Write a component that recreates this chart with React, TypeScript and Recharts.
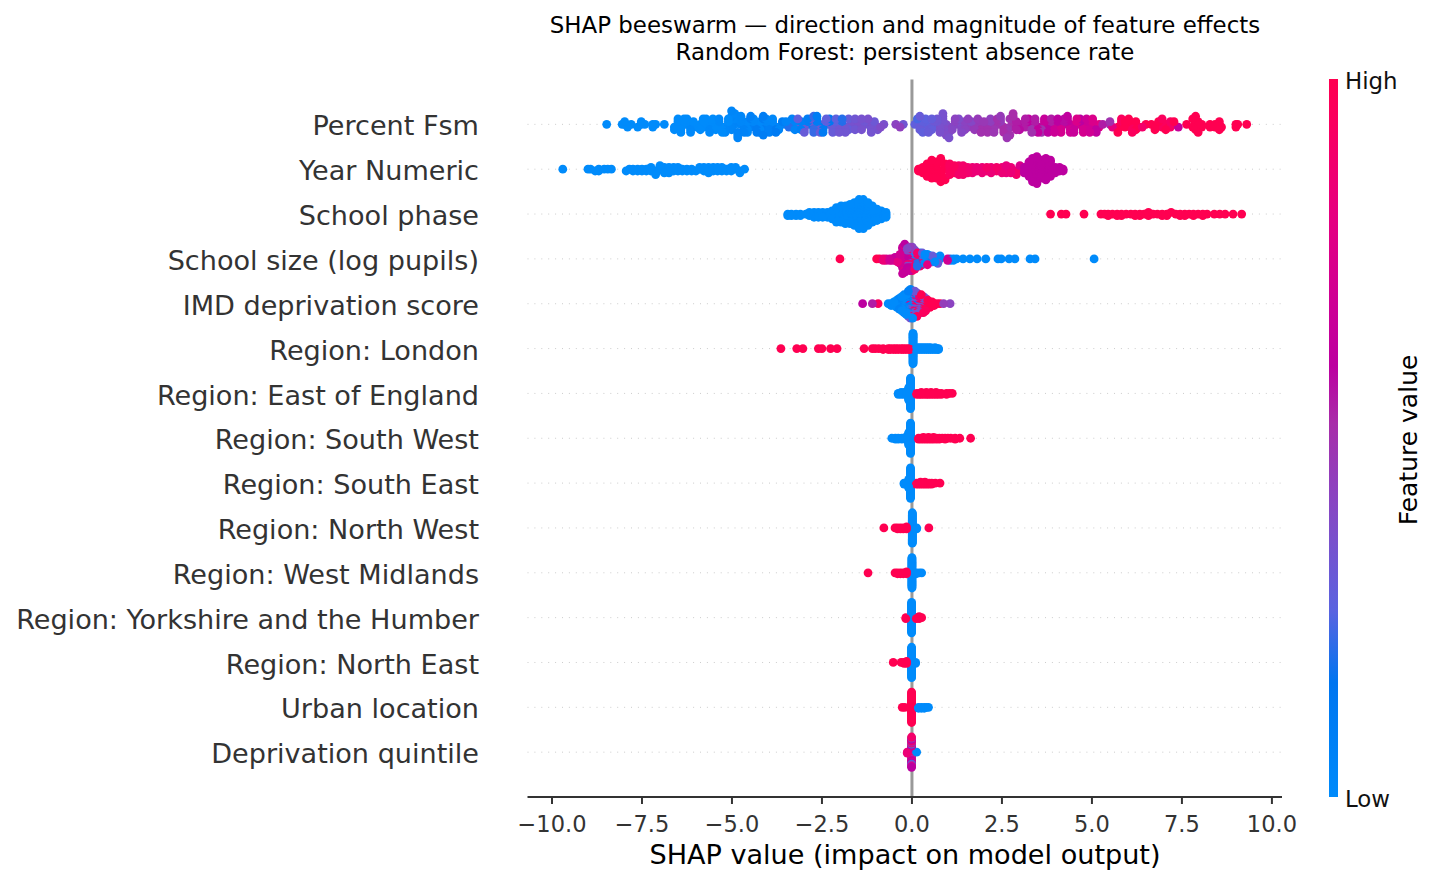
import { ScatterChart, Scatter, XAxis, YAxis, ReferenceLine } from 'recharts'

// ─── Data ─────────────────────────────────────────────────────────────────────
// Each entry: [SHAP value, how many schools stack there, feature value 0..1]

type Stack = [number, number, number]

const FEATURES = [
  'Percent Fsm',
  'Year Numeric',
  'School phase',
  'School size (log pupils)',
  'IMD deprivation score',
  'Region: London',
  'Region: East of England',
  'Region: South West',
  'Region: South East',
  'Region: North West',
  'Region: West Midlands',
  'Region: Yorkshire and the Humber',
  'Region: North East',
  'Urban location',
  'Deprivation quintile',
]

const X_TICKS = [-10, -7.5, -5, -2.5, 0, 2.5, 5, 7.5, 10]

const percentFsm: Stack[] = [
  [-8.48,1,0],[-8.05,1,0],[-7.98,2,0],[-7.9,1,0],[-7.8,1,0],[-7.62,1,0],[-7.52,2,0],[-7.42,1,0],[-7.2,2,0],[-7.12,1,0],[-6.88,1,0],
  [-6.6,2,0],[-6.5,3,0],[-6.42,3,0],[-6.33,3,0],[-6.25,3,0],[-6.15,3,.02],[-6.07,2,0],[-5.98,1,0],[-5.88,2,0],[-5.8,3,0],[-5.72,3,0],[-5.62,3,.02],[-5.53,2,0],[-5.45,3,0],
  [-5.36,3,.02],[-5.27,3,0],[-5.19,3,.03],[-5.1,3,0],[-5.01,4,.04],[-4.92,3,.02],[-4.84,4,.05],[-4.75,4,.03],[-4.66,3,.06],[-4.57,4,.02],[-4.48,3,.08],[-4.4,3,.03],[-4.31,3,.1],[-4.22,4,.02],[-4.13,4,.1],[-4.05,3,.04],[-3.96,3,.08],[-3.87,3,.03],[-3.78,3,.12],[-3.7,2,.04],[-3.6,2,.1],[-3.5,2,.05],[-3.42,1,.2],[-3.33,2,.06],
  [-3.25,3,.05],[-3.17,2,.28],[-3.08,3,.08],[-2.99,3,.3],[-2.9,3,.1],[-2.82,3,.3],[-2.73,4,.22],[-2.64,3,.1],[-2.55,4,.3],[-2.47,3,.12],[-2.38,3,.28],[-2.29,3,.14],[-2.2,3,.3],[-2.11,3,.27],[-2.02,3,.33],[-1.94,3,.2],[-1.85,3,.33],[-1.76,3,.3],[-1.67,2,.35],[-1.58,3,.33],[-1.5,2,.36],[-1.4,3,.35],[-1.32,2,.33],[-1.22,3,.36],[-1.13,3,.34],[-1.04,2,.32],[-.95,2,.35],[-.87,1,.38],[-.78,1,.36],[-.45,1,.42],[-.33,1,.44],[-.24,1,.33],[.08,1,.28],[.15,1,.24],
  [.22,3,.3],[.3,3,.28],[.38,3,.27],[.46,3,.3],[.55,3,.29],[.62,2,.32],[.7,3,.33],[.78,3,.36],[.86,4,.35],[.95,3,.38],[1.03,3,.36],[1.12,2,.4],[1.2,3,.42],[1.3,3,.38],[1.38,3,.4],[1.47,3,.42],[1.56,2,.44],[1.65,2,.4],[1.74,2,.46],[1.83,3,.46],[1.92,3,.5],[2,3,.47],[2.1,3,.5],[2.18,3,.44],[2.28,3,.48],[2.37,3,.5],[2.46,4,.46],[2.55,3,.52],[2.64,3,.48],[2.72,3,.5],[2.81,4,.52],[2.9,4,.55],[2.99,2,.58],
  [3.15,3,.55],[3.24,3,.6],[3.33,3,.5],[3.42,3,.55],[3.5,3,.62],[3.6,3,.5],[3.68,3,.65],[3.78,3,.6],[3.87,3,.55],[3.96,3,.68],[4.05,3,.6],[4.14,3,.72],[4.23,3,.58],[4.32,3,.62],[4.4,4,.7],[4.5,3,.66],[4.58,3,.75],[4.67,3,.6],[4.76,3,.72],[4.85,3,.68],[4.94,3,.7],[5.02,3,.75],[5.12,3,.62],[5.2,2,.8],[5.3,1,.55],[5.5,2,.5],[5.57,1,.8],
  [5.72,3,1],[5.82,3,.95],[5.92,3,1],[6.02,3,1],[6.12,3,.95],[6.22,3,1],[6.3,1,.85],[6.4,1,.9],[6.5,1,1],[6.65,1,1],[6.75,2,1],[6.85,2,1],[6.95,3,.95],[7.05,2,1],[7.18,3,.92],[7.28,2,1],[7.4,1,.65],[7.63,1,1],[7.8,2,1],[7.88,2,1],[7.95,3,1],[8.05,2,1],[8.28,2,1],[8.42,2,1],[8.54,3,1],[8.6,1,1],[9,2,1],[9.05,1,1],[9.3,1,1],
]

const yearNumeric: Stack[] = [
  [-9.7,1,0],[-9,1,0],[-8.93,1,0],[-8.8,1,0],[-8.7,2,0],[-8.55,1,0],[-8.45,1,0],[-8.35,1,0],
  [-7.94,1,0],[-7.85,1,0],[-7.75,2,0],[-7.62,2,0],[-7.5,2,0],[-7.38,2,0],[-7.25,3,0],[-7.12,3,0],[-7,3,0],[-6.88,4,0],[-6.75,4,0],[-6.62,3,0],[-6.5,3,0],[-6.38,2,0],[-6.25,2,0],[-6.12,2,0],[-6,1,0],[-5.9,2,0],[-5.78,3,0],[-5.65,4,0],[-5.52,3,0],[-5.4,3,0],[-5.28,3,0],[-5.15,2,0],[-5.02,3,0],[-4.9,2,0],[-4.78,2,0],[-4.65,1,0],
  [.18,2,1],[.3,4,1],[.42,8,1],[.55,11,1],[.68,10,1],[.8,8,1],[.92,6,1],[1.05,7,.95],[1.18,5,.95],[1.3,6,.9],[1.42,6,.9],[1.55,4,.88],[1.68,4,.85],[1.8,3,.85],[1.95,4,.85],[2.08,3,.9],[2.2,4,.85],[2.35,3,.9],[2.5,4,.85],[2.62,5,.82],[2.75,4,.85],[2.9,3,.9],[3,3,.75],[3.12,4,.6],[3.25,9,.6],[3.35,14,.6],[3.47,16,.6],[3.6,11,.6],[3.72,7,.6],[3.85,6,.6],[3.98,4,.6],[4.1,3,.6],[4.2,2,.6],
]

const schoolPhase: Stack[] = [
  [-3.45,2,0],[-3.35,2,0],[-3.22,2,0],[-3.1,2,0],[-2.95,1,0],[-2.85,3,0],[-2.72,4,0],[-2.6,4,0],[-2.48,4,0],[-2.35,4,0],[-2.22,6,0],[-2.1,10,0],[-1.97,11,0],[-1.85,12,0],[-1.72,13,0],[-1.6,15,0],[-1.47,19,0],[-1.35,19,0],[-1.22,15,0],[-1.1,11,0],[-.97,8,0],[-.85,6,0],[-.72,4,0],
  [3.85,1,1],[4.15,1,1],[4.28,1,1],[4.78,1,1],[5.25,1,1],[5.35,1,1],[5.45,2,1],[5.57,1,1],[5.7,2,1],[5.82,2,1],[5.95,1,1],[6.08,1,1],[6.2,2,1],[6.33,2,1],[6.45,1,1],[6.57,2,1],[6.7,1,1],[6.82,1,1],[6.95,2,1],[7.08,2,1],[7.2,1,1],[7.33,1,1],[7.45,2,1],[7.58,2,1],[7.7,1,1],[7.82,2,1],[7.95,1,1],[8.08,2,1],[8.2,1,1],[8.4,1,1],[8.55,1,1],[8.7,1,1],[8.92,1,1],[9.16,1,1],
]

const schoolSize: Stack[] = [
  [-2,1,1],[-.98,1,1],[-.9,1,.95],[-.8,2,.85],[-.72,2,.75],[-.62,2,.7],[-.55,2,.7],[-.47,3,.65],[-.4,4,.8],[-.33,7,.7],[-.26,9,.65],
  [-.2,7,.8],[-.2,5,.6],[-.13,9,.62],[-.13,4,.4],[-.13,2,.9],[-.06,8,.65],[-.06,5,.9],[-.06,4,.45],
  [.01,6,.5],[.01,5,.4],[.01,4,.9],[.01,2,0],[.08,7,.9],[.08,4,.35],[.08,3,0],[.15,5,.2],[.15,5,.9],[.22,7,0],[.22,3,.9],[.29,6,.3],[.29,3,.85],
  [.36,7,0],[.43,6,0],[.43,2,.8],[.5,5,.1],[.57,4,.3],[.57,1,.9],[.64,4,0],[.72,3,.3],[.78,3,0],[.99,2,.7],[1.06,2,0],[1.15,2,0],[1.24,1,0],[1.42,1,0],[1.61,1,0],[1.81,1,0],[2.05,1,0],[2.39,1,0],[2.48,1,0],[2.7,1,0],[2.86,1,0],[3.28,1,0],[3.42,1,0],[5.06,1,0],
]

const imdScore: Stack[] = [
  [-1.37,1,.6],[-1.1,1,.55],[-.94,1,.95],[-.66,1,0],[-.58,2,0],[-.5,3,0],[-.42,5,0],[-.35,7,.05],[-.28,9,0],[-.22,11,.05],
  [-.16,10,0],[-.16,2,.8],[-.1,10,.08],[-.1,5,.35],[-.04,9,.05],[-.04,3,.9],[-.04,5,.33],[.02,7,.33],[.02,3,.85],[.02,6,0],[.08,4,.85],[.08,7,.33],[.08,4,.08],
  [.14,4,.95],[.14,7,.35],[.14,3,.08],[.2,5,.85],[.2,6,.33],[.26,5,1],[.26,6,.37],[.32,6,.95],[.32,4,.38],[.38,5,.95],[.38,3,.4],[.44,5,1],[.5,4,1],[.56,3,1],[.62,2,1],[.7,1,1],[.78,1,1],[.88,1,.45],[1.06,1,.42],
]

const regionLondon: Stack[] = [
  [-3.64,1,1],[-3.2,1,1],[-3.03,1,1],[-2.6,1,1],[-2.5,1,1],[-2.26,1,1],[-2.08,1,1],[-1.33,1,1],[-1.1,1,1],[-1.02,1,1],[-.92,1,1],[-.8,2,1],[-.66,2,1],[-.6,2,1],[-.52,2,1],[-.45,2,1],[-.38,2,1],[-.3,2,1],[-.24,2,1],[-.17,2,1],[-.1,2,1],[-.05,2,1],
  [.03,33,0],[.1,2,0],[.16,3,0],[.22,3,0],[.28,3,0],[.34,3,0],[.4,3,0],[.46,3,0],[.52,3,0],[.58,2,0],[.64,3,0],[.7,2,0],[.74,2,0],
]

const regionEast: Stack[] = [
  [-.38,2,0],[-.3,3,0],[-.22,3,0],[-.15,3,0],[-.09,14,0],[-.04,33,0],
  [.13,2,1],[.2,2,1],[.26,3,1],[.33,2,1],[.4,3,1],[.46,2,1],[.53,3,1],[.6,2,1],[.67,3,1],[.74,2,1],[.82,2,1],[.96,2,1],[1.04,1,1],[1.12,1,1],
]

const regionSouthWest: Stack[] = [
  [-.56,1,0],[-.46,2,0],[-.38,2,0],[-.28,2,0],[-.18,3,0],[-.09,14,0],[-.04,33,0],
  [.18,2,1],[.25,2,1],[.32,3,1],[.39,2,1],[.46,3,1],[.53,2,1],[.6,3,1],[.68,2,1],[.76,2,1],[.84,1,1],[.92,2,1],[1,1,1],[1.08,1,1],[1.2,2,1],[1.33,1,1],[1.63,1,1],
]

const regionSouthEast: Stack[] = [
  [-.22,2,0],[-.15,2,0],[-.09,10,0],[-.04,33,0],
  [.12,2,1],[.18,2,1],[.24,3,1],[.3,2,1],[.36,3,1],[.42,2,1],[.48,2,1],[.55,2,1],[.65,1,1],[.78,1,1],
]

const regionNorthWest: Stack[] = [
  [-.78,1,1],[-.47,1,1],[-.4,2,1],[-.32,2,1],[-.24,2,1],[-.15,3,1],[.01,33,0],[.13,2,0],[.47,1,1],
]

const regionWestMidlands: Stack[] = [
  [-1.22,1,1],[-.47,1,1],[-.4,2,1],[-.32,2,1],[-.24,2,1],[-.15,3,1],[0,33,0],[.12,2,0],[.2,1,0],[.27,1,0],
]

const regionYorkshire: Stack[] = [
  [-.17,2,1],[.12,2,1],[.2,3,1],[.27,1,1],[-.01,33,0],
]

const regionNorthEast: Stack[] = [
  [-.52,1,1],[-.3,1,1],[-.22,2,1],[-.15,3,1],[-.01,33,0],[.1,2,0],
]

const urbanLocation: Stack[] = [
  [-.27,1,1],[-.2,1,1],[-.01,33,1],[.18,2,0],[.26,2,0],[.34,2,0],[.4,1,0],[.46,1,0],
]

const deprivationQuintile: Stack[] = [
  [-.13,2,.85],[-.01,9,.6],[-.01,7,.75],[-.01,6,.9],[-.01,6,.5],[-.01,3,.25],[.13,1,0],
]

const ROWS = [
  percentFsm, yearNumeric, schoolPhase, schoolSize, imdScore, regionLondon, regionEast, regionSouthWest,
  regionSouthEast, regionNorthWest, regionWestMidlands, regionYorkshire, regionNorthEast, urbanLocation, deprivationQuintile,
]

// ─── Colour ───────────────────────────────────────────────────────────────────

const COLOR_STOPS: [number, string][] = [
  [0, '#008bfb'], [0.16, '#0075f0'], [0.26, '#5a63e0'], [0.36, '#7a50cc'], [0.435, '#8f40be'],
  [0.52, '#a82da9'], [0.6, '#bc00a0'], [0.68, '#cc0096'], [0.81, '#e60080'], [0.94, '#fa005f'], [1, '#ff0051'],
]

function colorAt(v: number): string {
  let i = 0
  while (i < COLOR_STOPS.length - 2 && v > COLOR_STOPS[i + 1][0]) i++
  const [a, ca] = COLOR_STOPS[i]
  const [b, cb] = COLOR_STOPS[i + 1]
  const t = (v - a) / (b - a)
  const ch = (c: string, s: number) => parseInt(c.slice(s, s + 2), 16)
  const mix = (s: number) => Math.round(ch(ca, s) + (ch(cb, s) - ch(ca, s)) * t)
  return `rgb(${mix(1)},${mix(3)},${mix(5)})`
}

// ─── Swarm layout ─────────────────────────────────────────────────────────────
// Same binning as shap's summary plot: points in one x bin spread out in
// alternating layers, scaled so the tallest bin fills the row.

const N_BINS = 100
const ROW_HEIGHT = 0.4

interface Point { x: number; y: number; c: number; order: number }

function layoutRow(stacks: Stack[], row: number): Point[] {
  const pts: { x: number; c: number; order: number }[] = []
  stacks.forEach(([x, n, c]) => {
    for (let k = 0; k < n; k++) pts.push({ x, c, order: (pts.length * 0.618034) % 1 })
  })
  const xs = pts.map(p => p.x)
  const min = Math.min(...xs)
  const span = Math.max(...xs) - min
  const quant = (x: number) => Math.round((N_BINS * (x - min)) / span)
  const sorted = [...pts].sort((a, b) => quant(a.x) - quant(b.x) || a.order - b.order)

  let last = -1
  let layer = 0
  const placed = sorted.map(p => {
    if (quant(p.x) !== last) layer = 0
    last = quant(p.x)
    const offset = Math.ceil(layer / 2) * (layer % 2 ? 1 : -1)
    layer++
    return { ...p, offset }
  })
  const maxOffset = Math.max(...placed.map(p => Math.abs(p.offset)))
  const scale = (0.9 * ROW_HEIGHT) / (maxOffset + 1)
  return placed
    .map(p => ({ x: p.x, y: row + p.offset * scale, c: p.c, order: p.order }))
    .sort((a, b) => a.order - b.order)
}

const SWARMS = ROWS.map(layoutRow)

function Dot(props: any) {
  return <circle cx={props.cx} cy={props.cy} r={4.4} fill={colorAt(props.payload.c)} />
}

// ─── Chart ────────────────────────────────────────────────────────────────────

const FONT = '"DejaVu Sans", sans-serif'
const gradient = COLOR_STOPS.map(([v, c]) => `${c} ${v * 100}%`).join(', ')

const overlay = (style: React.CSSProperties): React.CSSProperties => ({
  position: 'absolute',
  whiteSpace: 'nowrap',
  fontFamily: FONT,
  color: '#000',
  ...style,
})

export default function App() {
  return (
    <div style={{ position: 'absolute', left: 0, top: 0, width: 1436, height: 884, overflow: 'hidden', background: '#fff' }}>
      <ScatterChart
        width={1436}
        height={884}
        margin={{ top: 79.5, right: 154, bottom: 0, left: 0 }}
        style={{ fontFamily: FONT }}
      >
        <XAxis
          type="number"
          dataKey="x"
          domain={[-10.68, 10.28]}
          ticks={X_TICKS}
          allowDataOverflow
          height={87}
          tickSize={7}
          tickMargin={12}
          stroke="#333333"
          axisLine={{ stroke: '#333333', strokeWidth: 2 }}
          tickLine={{ stroke: '#333333', strokeWidth: 2 }}
          tick={{ fontSize: 22.5, fill: '#333333' }}
          tickFormatter={(v: number) => v.toFixed(1).replace('-', '\u2212')}
        />
        <YAxis
          type="number"
          dataKey="y"
          reversed
          domain={[-1, 15]}
          ticks={FEATURES.map((_, i) => i)}
          interval={0}
          width={527.5}
          axisLine={false}
          tickLine={false}
          tickSize={0}
          tickMargin={48.5}
          tick={{ fontSize: 27.08, fill: '#333333', dy: 1.5 }}
          tickFormatter={(v: number) => FEATURES[v] ?? ''}
        />
        {FEATURES.map((name, i) => (
          <ReferenceLine key={name} y={i} stroke="#cccccc" strokeWidth={1} strokeDasharray="1 5.9" />
        ))}
        <ReferenceLine x={0} stroke="#999999" strokeWidth={3} />
        {FEATURES.map((name, i) => (
          <Scatter key={name} name={name} data={SWARMS[i]} shape={Dot} isAnimationActive={false} />
        ))}
      </ScatterChart>

      <div style={overlay({ left: 505, width: 800, top: 12, textAlign: 'center', fontSize: 22.9, lineHeight: '27px' })}>
        SHAP beeswarm — direction and magnitude of feature effects
        <br />
        Random Forest: persistent absence rate
      </div>
      <div style={overlay({ left: 405, width: 1000, top: 839, textAlign: 'center', fontSize: 27.08 })}>
        SHAP value (impact on model output)
      </div>

      <div style={{ position: 'absolute', left: 1329, top: 79, width: 9, height: 718, background: `linear-gradient(to top, ${gradient})` }} />
      <div style={overlay({ left: 1345, top: 68, fontSize: 22.9, color: '#111' })}>High</div>
      <div style={overlay({ left: 1345, top: 786, fontSize: 22.9, color: '#111' })}>Low</div>
      <div
        style={overlay({
          left: 1408,
          top: 440,
          fontSize: 25,
          transform: 'translate(-50%, -50%) rotate(-90deg)',
        })}
      >
        Feature value
      </div>
    </div>
  )
}
